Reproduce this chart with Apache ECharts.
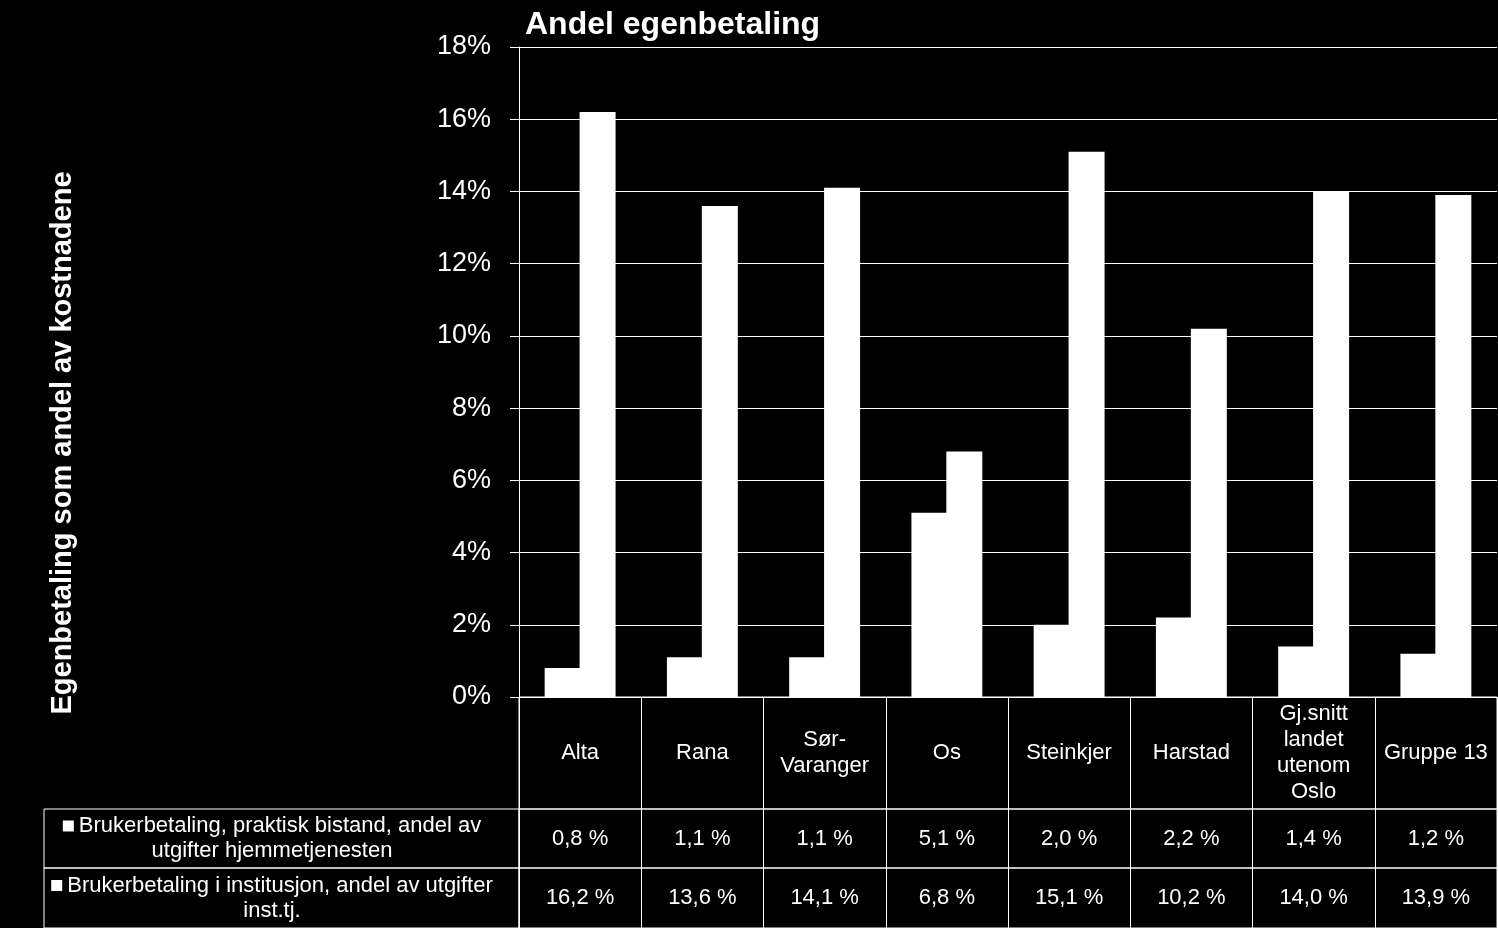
<!DOCTYPE html>
<html><head><meta charset="utf-8">
<script src="https://cdn.jsdelivr.net/npm/echarts@6/dist/echarts.min.js"></script>
<style>html,body{margin:0;padding:0;background:#000;}#c{width:1498px;height:928px;}</style>
</head><body><div id="c"></div>
<script>
const categories = ['Alta', 'Rana', 'Sør-\nVaranger', 'Os', 'Steinkjer', 'Harstad', 'Gj.snitt\nlandet\nutenom\nOslo', 'Gruppe 13'];
const seriesNames = ['Brukerbetaling, praktisk bistand, andel av utgifter hjemmetjenesten',
                     'Brukerbetaling i institusjon, andel av utgifter inst.tj.'];
const legendLines = ['Brukerbetaling, praktisk bistand, andel av\nutgifter hjemmetjenesten',
                     'Brukerbetaling i institusjon, andel av utgifter\ninst.tj.'];
const praktiskBistand = [0.8, 1.1, 1.1, 5.1, 2.0, 2.2, 1.4, 1.2];
const institusjon = [16.2, 13.6, 14.1, 6.8, 15.1, 10.2, 14.0, 13.9];
const yTicks = [0, 2, 4, 6, 8, 10, 12, 14, 16, 18];

const FONT = "'Liberation Sans', Arial, sans-serif";
const fmt = v => v.toFixed(1).replace('.', ',') + ' %';

const chart = echarts.init(document.getElementById('c'), null, {renderer: 'canvas'});

const gridBorder = {show: true, borderColor: '#fff', borderWidth: 1, backgroundColor: 'transparent'};
const grids = [
  {left: 519, right: 1, top: 47, bottom: 231},
  Object.assign({left: 519, right: 1, top: 697, height: 112}, gridBorder),
  Object.assign({left: 519, right: 1, top: 809, height: 59}, gridBorder),
  Object.assign({left: 519, right: 1, top: 868, height: 60}, gridBorder),
  Object.assign({left: 44, width: 475, top: 809, height: 59}, gridBorder),
  Object.assign({left: 44, width: 475, top: 868, height: 60}, gridBorder)
];

function tableX(gi) {
  return {type: 'category', gridIndex: gi, data: categories, boundaryGap: true,
    axisLine: {show: false}, axisTick: {show: false}, axisLabel: {show: false},
    splitLine: {show: true, lineStyle: {color: '#fff', width: 1}}};
}
function hiddenVal(gi) {
  return {type: 'value', gridIndex: gi, min: 0, max: 1, show: false, splitLine: {show: false}};
}

function textSeries(xi, yi, items, lh) {
  return {
    type: 'custom', xAxisIndex: xi, yAxisIndex: yi, silent: true, clip: false,
    data: items.map((t, i) => [i, 0.5]),
    renderItem: function (params, api) {
      const p = api.coord([api.value(0), 0.5]);
      const t = items[params.dataIndex];
      return {type: 'text', x: p[0], y: p[1],
        style: {text: t, fill: '#fff', fontSize: 22, fontFamily: FONT, lineHeight: lh,
                align: 'center', verticalAlign: 'middle'}};
    }
  };
}
function legendSeries(xi, yi, idx) {
  return {
    type: 'custom', xAxisIndex: xi, yAxisIndex: yi, silent: true, clip: false,
    data: [[0.48, 0.5]],
    renderItem: function (params, api) {
      const p = api.coord([api.value(0), api.value(1)]);
      return {type: 'text', x: p[0], y: p[1],
        style: {text: '{sq| }{gap| }' + legendLines[idx], fill: '#fff', fontSize: 22, fontFamily: FONT,
                lineHeight: 25, align: 'center', verticalAlign: 'middle',
                rich: {sq: {backgroundColor: '#fff', width: 11, height: 11, lineHeight: 25},
                       gap: {width: 5, fontSize: 22, lineHeight: 25}}}};
    }
  };
}

const barStyle = {color: '#fff'};

const option = {
  backgroundColor: '#000',
  animation: false,
  title: {text: 'Andel egenbetaling', left: 520, top: 4,
          textStyle: {color: '#fff', fontSize: 32, fontWeight: 'bold', fontFamily: FONT}},
  grid: grids,
  xAxis: [
    {type: 'category', gridIndex: 0, data: categories, boundaryGap: true,
     axisLine: {show: true, lineStyle: {color: '#fff', width: 1}}, axisTick: {show: false}, axisLabel: {show: false}},
    tableX(1), tableX(2), tableX(3),
    hiddenVal(4), hiddenVal(5)
  ],
  yAxis: [
    {type: 'value', gridIndex: 0, min: 0, max: 18, interval: 2,
     name: 'Egenbetaling som andel av kostnadene', nameLocation: 'middle', nameRotate: 90, nameGap: 442,
     nameTextStyle: {color: '#fff', fontSize: 29, fontWeight: 'bold', fontFamily: FONT, padding: [0, 142, 0, 0]},
     axisLine: {show: true, lineStyle: {color: '#fff', width: 1}},
     axisTick: {show: true, length: 9, lineStyle: {color: '#fff'}},
     axisLabel: {color: '#fff', fontSize: 27, fontFamily: FONT, margin: 28,
                 formatter: v => yTicks.includes(v) ? v + '%' : ''},
     splitLine: {show: true, lineStyle: {color: '#fff', width: 1}}},
    hiddenVal(1), hiddenVal(2), hiddenVal(3), hiddenVal(4), hiddenVal(5)
  ],
  series: [
    {name: seriesNames[0], type: 'bar', xAxisIndex: 0, yAxisIndex: 0, data: praktiskBistand,
     itemStyle: barStyle, barGap: '-3%', barWidth: 36},
    {name: seriesNames[1], type: 'bar', xAxisIndex: 0, yAxisIndex: 0, data: institusjon,
     itemStyle: barStyle, barGap: '-3%', barWidth: 36},
    textSeries(1, 1, categories, 26),
    textSeries(2, 2, praktiskBistand.map(fmt), 25),
    textSeries(3, 3, institusjon.map(fmt), 25),
    legendSeries(4, 4, 0),
    legendSeries(5, 5, 1)
  ]
};
chart.setOption(option);
</script></body></html>
